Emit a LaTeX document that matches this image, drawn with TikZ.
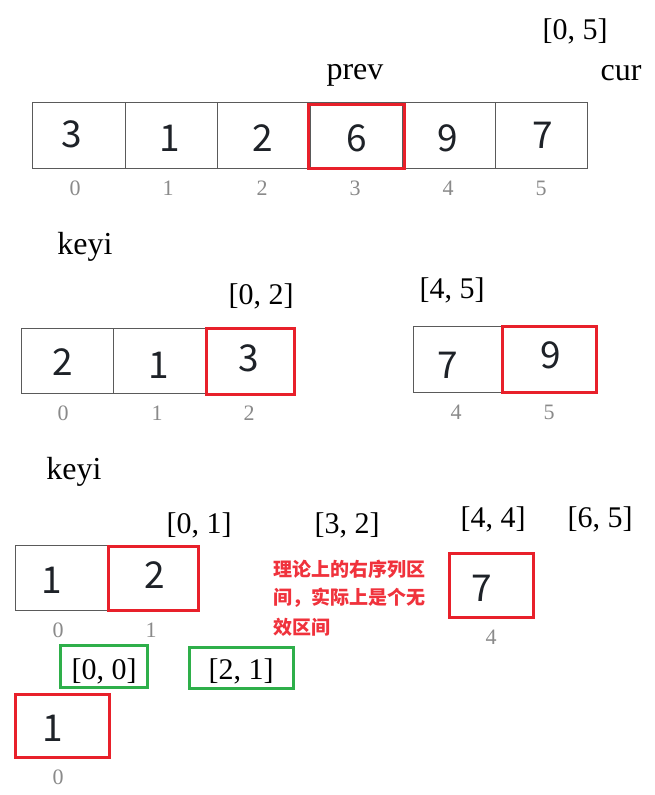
\documentclass[tikz,border=0pt]{standalone}
\usepackage{fontspec}
\setmainfont{Liberation Serif}
\newfontfamily\cjk{Noto Sans CJK SC}
\definecolor{cellgray}{HTML}{5A5A5A}
\definecolor{hotred}{HTML}{E8202A}
\definecolor{okgreen}{HTML}{2EAF4A}
\definecolor{idxgray}{HTML}{8A8A8A}
\definecolor{numblack}{HTML}{1E2228}
\definecolor{notered}{HTML}{F0323C}
\begin{document}
\begin{tikzpicture}[x=1pt,y=-1pt,
  num/.style={font=\cjk\fontsize{37}{40}\selectfont, text=numblack, inner sep=0pt},
  idx/.style={font=\fontsize{22}{24}\selectfont, text=idxgray, inner sep=0pt},
  rng/.style={font=\fontsize{30}{32}\selectfont, inner sep=0pt, anchor=base},
  word/.style={font=\fontsize{32}{34}\selectfont, inner sep=0pt, anchor=base},
  note/.style={font=\cjk\bfseries\fontsize{19}{22}\selectfont, text=notered, inner sep=0pt, anchor=west},
  cell/.style={draw=cellgray, line width=1.3pt, inner sep=0pt, anchor=north west},
  hot/.style={draw=hotred, line width=3pt, inner sep=0pt, anchor=north west},
  okbox/.style={draw=okgreen, line width=2.5pt, inner sep=0pt, anchor=north west}]
\fill[white] (0,0) rectangle (655,795);
\useasboundingbox (0,0) rectangle (655,795);

% ---------- row 1 ----------
\node[rng] (r05) at (575,39) {[0, 5]};
\node[word] (prev) at (355,79) {prev};
\node[word] (cur) at (621,80) {cur};
\node[cell, minimum width=93pt, minimum height=66pt] (a0) at (32,102) {};
\node[cell, minimum width=92pt, minimum height=66pt] (a1) at (125,102) {};
\node[cell, minimum width=93pt, minimum height=66pt] (a2) at (217,102) {};
\node[cell, minimum width=92pt, minimum height=66pt] (a3) at (310,102) {};
\node[cell, minimum width=93pt, minimum height=66pt] (a4) at (402,102) {};
\node[cell, minimum width=92pt, minimum height=66pt] (a5) at (495,102) {};
\node[hot, minimum width=96pt, minimum height=64pt] (p3) at (307,103) {};
\node[num] (n0) at (72,134) {3};
\node[num] (n1) at (170,138) {1};
\node[num] (n2) at (263,138) {2};
\node[num] (n3) at (357,138) {6};
\node[num] (n4) at (448,138) {9};
\node[num] (n5) at (543,135) {7};
\node[idx] (i0) at (75,188) {0};
\node[idx] (i1) at (168,188) {1};
\node[idx] (i2) at (262,188) {2};
\node[idx] (i3) at (355,188) {3};
\node[idx] (i4) at (448,188) {4};
\node[idx] (i5) at (541,188) {5};

% ---------- row 2 ----------
\node[word] (keyi1) at (85,254) {keyi};
\node[rng] (r02) at (261,304) {[0, 2]};
\node[rng] (r45) at (452,298) {[4, 5]};
\node[cell, minimum width=92pt, minimum height=65pt] (b0) at (21,328) {};
\node[cell, minimum width=92pt, minimum height=65pt] (b1) at (113,328) {};
\node[hot, minimum width=88pt, minimum height=66pt] (b2) at (205,327) {};
\node[num] (m0) at (63,362) {2};
\node[num] (m1) at (159,365) {1};
\node[num] (m2) at (249,358) {3};
\node[idx] (j0) at (63,413) {0};
\node[idx] (j1) at (157,413) {1};
\node[idx] (j2) at (249,413) {2};
\node[cell, minimum width=88pt, minimum height=66pt] (c4) at (413,326) {};
\node[hot, minimum width=94pt, minimum height=66pt] (c5) at (501,325) {};
\node[num] (k4) at (448,365) {7};
\node[num] (k5) at (551,355) {9};
\node[idx] (l4) at (456,412) {4};
\node[idx] (l5) at (549,412) {5};

% ---------- row 3 ----------
\node[word] (keyi2) at (74,479) {keyi};
\node[rng] (r01) at (199,533) {[0, 1]};
\node[rng] (r32) at (347,533) {[3, 2]};
\node[rng] (r44) at (493,527) {[4, 4]};
\node[rng] (r65) at (600,527) {[6, 5]};
\node[cell, minimum width=92pt, minimum height=65pt] (d0) at (15,545) {};
\node[hot, minimum width=90pt, minimum height=64pt] (d1) at (107,545) {};
\node[num] (e0) at (52,580) {1};
\node[num] (e1) at (155,575) {2};
\node[idx] (f0) at (58,630) {0};
\node[idx] (f1) at (151,630) {1};
\node[note] (t1) at (273,569) {理论上的右序列区};
\node[note] (t2) at (273,598) {间，实际上是个无};
\node[note] (t3) at (273,627) {效区间};
\node[hot, minimum width=84pt, minimum height=64pt] (g4) at (448,552) {};
\node[num] (h4) at (482,588) {7};
\node[idx] (q4) at (491,637) {4};

% ---------- row 4 ----------
\node[okbox, minimum width=87pt, minimum height=42pt] (gb1) at (59,644) {};
\node[rng] (r00) at (104,679) {[0, 0]};
\node[okbox, minimum width=104pt, minimum height=41pt] (gb2) at (188,646) {};
\node[rng] (r21) at (241,679) {[2, 1]};
\node[hot, minimum width=94pt, minimum height=63pt] (s0) at (14,693) {};
\node[num] (u0) at (53,728) {1};
\node[idx] (v0) at (58,777) {0};
\end{tikzpicture}
\end{document}
